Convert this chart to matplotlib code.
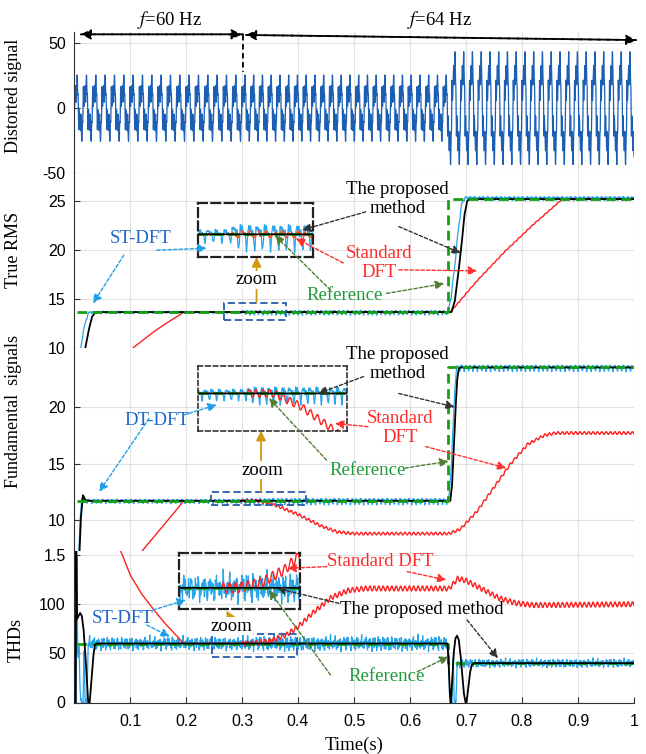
import numpy as np
import matplotlib.pyplot as plt
from matplotlib.patches import Rectangle

plt.rcParams['font.family'] = ['Liberation Serif', 'DejaVu Serif']
plt.rcParams['mathtext.fontset'] = 'stix'
plt.rcParams['axes.unicode_minus'] = False

# test signal: 60 Hz -> 64 Hz at 0.3 s, amplitude step at 0.667 s
freq_change_time = 0.3
step_time = 0.667
freq_hz = [60, 64]
harm_order = [1, 3, 5, 7, 9, 11]
harm_amp_before = [16.5, 6.5, 5.0, 4.0, 3.0, 2.5]
harm_amp_after = [33.2, 8.5, 6.5, 5.0, 4.0, 3.0]
harm_phase = [0.0, 1.2, 2.6, 0.7, 2.0, 1.5]

# reference values (before / after the step)
ref_rms = [13.7, 25.2]
ref_fund = [11.7, 23.5]
ref_thd = [60, 40]
ref_start = 0.005

# standard DFT (red)
dft_rms_t = [0.08, 0.104, 0.12, 0.14, 0.16, 0.18, 0.196, 0.672, 0.72, 0.77, 0.82, 0.872, 1.0]
dft_rms_v = [8.8, 10.0, 10.7, 11.6, 12.4, 13.1, 13.7, 13.7, 16.9, 19.9, 22.6, 25.2, 25.2]
dft_fund_t = [0.10, 0.196, 0.33, 0.36, 0.40, 0.44, 0.47, 0.50, 0.67, 0.69, 0.72, 0.75,
              0.78, 0.81, 0.84, 0.86, 1.0]
dft_fund_v = [5.97, 11.7, 11.7, 11.3, 10.5, 9.5, 8.95, 8.8, 8.8, 9.2, 10.8, 12.9,
              15.0, 16.7, 17.5, 17.7, 17.7]
dft_thd_t = [0.075, 0.085, 0.10, 0.12, 0.14, 0.16, 0.18, 0.196, 0.32, 0.35, 0.38, 0.40,
             0.43, 0.46, 0.49, 0.52, 0.67, 0.685, 0.70, 0.73, 0.76, 0.79, 0.82, 1.0]
dft_thd_v = [165, 152, 130, 111, 96, 82, 70, 60, 60, 62.5, 69, 77,
             93, 107, 114, 116, 116, 126, 124, 115, 106, 101, 99, 100]
dft_ripple = [0.05, 0.12, 2.5]          # rms, fundamental, thd (after 0.3 s)

# proposed method (black)
prop_rms_t = [0.0, 0.02, 0.026, 0.032, 0.038, 0.674, 0.68, 0.686, 0.692, 0.697, 0.702, 0.706, 1.0]
prop_rms_v = [0.0, 10.0, 11.8, 13.2, 13.7, 13.7, 14.8, 17.5, 20.5, 23.5, 25.0, 25.2, 25.2]
prop_fund_t = [0.0, 0.008, 0.012, 0.016, 0.02, 0.025, 0.672, 0.675, 0.678, 0.681, 0.684, 0.687, 0.69, 1.0]
prop_fund_v = [0.0, 5.0, 10.0, 12.2, 11.8, 11.7, 11.7, 13.0, 16.0, 19.5, 22.3, 23.4, 23.5, 23.5]
prop_thd_t = [0.0, 0.003, 0.004, 0.0055, 0.008, 0.011, 0.014, 0.017, 0.020, 0.022, 0.024, 0.0255,
              0.028, 0.031, 0.034, 0.037, 0.040, 0.667, 0.669, 0.671, 0.673, 0.675, 0.678, 0.681,
              0.684, 0.687, 0.690, 0.693, 0.696, 0.699, 0.701, 0.704, 0.707, 0.710, 0.714, 1.0]
prop_thd_v = [0, 0, 170, 85, 88, 91, 88, 75, 52, 32, 12, 0,
              0, 22, 45, 58, 60, 60, 40, 10, 0, 20, 50, 65,
              68, 64, 50, 30, 10, 0, 0, 15, 30, 38, 40, 40]

# ST-DFT (blue)
st_rms_t = [0.0, 0.012, 0.016, 0.02, 0.025, 0.028, 0.668, 0.674, 0.68, 0.686, 0.692, 0.697, 1.0]
st_rms_v = [0.0, 10.0, 11.5, 12.6, 13.5, 13.7, 13.7, 15.5, 18.5, 22.0, 24.6, 25.3, 25.3]
st_fund_t = [0.0, 0.007, 0.011, 0.014, 0.018, 0.669, 0.672, 0.675, 0.678, 0.681, 0.684, 1.0]
st_fund_v = [0.0, 5.0, 10.0, 12.0, 11.7, 11.7, 13.5, 16.0, 19.5, 22.5, 23.5, 23.5]
st_thd_t = [0.0, 0.004, 0.005, 0.0065, 0.009, 0.011, 0.013, 0.016, 0.018, 0.020, 0.023, 0.025,
            0.027, 0.667, 0.669, 0.671, 0.675, 0.677, 0.679, 0.682, 0.684, 0.687, 1.0]
st_thd_v = [0, 0, 150, 55, 50, 10, 0, 0, 50, 0, 0, 55,
            60, 60, 50, 0, 0, 45, 0, 0, 38, 40, 40]
# ripple amplitude: before 0.3 s, 0.3-0.667 s, after 0.667 s
st_rms_ripple = [0.13, 0.25, 0.22]
st_fund_ripple = [0.2, 0.3, 0.3]
st_thd_ripple = [5.5, 6.0, 3.5]

C_BLUE = '#2aa5ea'
C_RED = '#ff2020'
C_GREEN = '#16a016'
C_SIG = '#1a5fb4'

t = np.linspace(0, 1, 20001)
cycles = np.where(t < freq_change_time, freq_hz[0] * t,
                  freq_hz[0] * freq_change_time + freq_hz[1] * (t - freq_change_time))
phase = 2 * np.pi * cycles
after = t >= step_time

signal = np.zeros_like(t)
for n, a0, a1, ph in zip(harm_order, harm_amp_before, harm_amp_after, harm_phase):
    signal += np.where(after, a1, a0) * np.sin(n * phase + ph)

wiggle = (np.sin(2 * phase) + 0.6 * np.sin(4 * phase + 0.8) + 0.45 * np.sin(6 * phase + 2.1)
          + 0.3 * np.sin(9.3 * phase + 0.5)) / 1.8
jitter = np.zeros_like(t)
for k, w, p in zip([2, 3.7, 5.3, 7.9, 11.3, 13.7, 19.1],
                   [1, .8, .7, .6, .5, .45, .4], [0, 1.3, 2.2, .4, 2.9, 1.7, .9]):
    jitter += w * np.sin(k * phase + p)
jitter /= 2.4


def by_segment(vals):
    return np.select([t < freq_change_time, t < step_time], vals[:2], vals[2])


red_on = (t >= freq_change_time).astype(float)
st_rms = np.interp(t, st_rms_t, st_rms_v) + by_segment(st_rms_ripple) * wiggle
st_fund = np.interp(t, st_fund_t, st_fund_v) + by_segment(st_fund_ripple) * wiggle
st_thd = np.interp(t, st_thd_t, st_thd_v) + by_segment(st_thd_ripple) * jitter
dft_rms = np.interp(t, dft_rms_t, dft_rms_v) + dft_ripple[0] * red_on * np.sin(2 * phase)
dft_fund = np.interp(t, dft_fund_t, dft_fund_v) + dft_ripple[1] * red_on * np.sin(2 * phase)
dft_thd = np.interp(t, dft_thd_t, dft_thd_v) + dft_ripple[2] * red_on * np.sin(2 * phase)
dft_rms[t < dft_rms_t[0]] = np.nan
dft_fund[t < dft_fund_t[0]] = np.nan
dft_thd[t < dft_thd_t[0]] = np.nan

ref_x = [ref_start, step_time, step_time, 1.0]

fig = plt.figure(figsize=(6.46, 7.54), dpi=100)
L, W = 74 / 646, 560 / 646
panels = [(173, 32), (348.5, 173), (551, 348.5), (702.5, 551)]
axes = []
for bot, top in panels:
    axes.append(fig.add_axes([L, (754 - bot) / 754, W, (bot - top) / 754]))
ax1, ax2, ax3, ax4 = axes

ylims = [(-50, 58.7), (10, 27.85), (7.26, 25.18), (0, 154.1)]
yticks = [[-50, 0, 50], [10, 15, 20, 25], [10, 15, 20], [0, 50, 100, 150]]
ytlabels = [['-50', '0', '50'], ['10', '15', '20', '25'], ['10', '15', '20'], ['0', '50', '100', '1.5']]
ylabels = ['Distorted signal', 'True RMS', 'Fundamental  signals', 'THDs']
ylab_pos = [0.546, 0.561, 0.691, 0.413]
for i, ax in enumerate(axes):
    ax.set_xlim(0, 1)
    ax.set_ylim(*ylims[i])
    ax.set_xticks(np.arange(1, 11) / 10)
    ax.set_yticks(yticks[i])
    ax.set_yticklabels(ytlabels[i], fontfamily='Liberation Sans', fontsize=11.5)
    ax.grid(True, color='#e2e2e2', lw=0.8)
    ax.set_axisbelow(True)
    for s in ['top', 'right']:
        ax.spines[s].set_visible(False)
    ax.spines['left'].set_color('#303030')
    ax.spines['left'].set_linewidth(0.8)
    ax.tick_params(axis='y', direction='in', length=4, color='#303030', pad=6)
    ax.set_ylabel(ylabels[i], fontsize=13)
    ax.yaxis.set_label_coords(-0.093 if i < 3 else -0.088, ylab_pos[i])
    if i < 3:
        ax.spines['bottom'].set_visible(False)
        ax.tick_params(axis='x', length=0, labelbottom=False)
    else:
        ax.spines['bottom'].set_color('#303030')
        ax.spines['bottom'].set_linewidth(0.8)
        ax.tick_params(axis='x', direction='in', length=4, color='#303030', pad=8)
        ax.set_xticklabels(['0.1', '0.2', '0.3', '0.4', '0.5', '0.6', '0.7', '0.8', '0.9', '1'],
                           fontfamily='Liberation Sans', fontsize=11.5)
        ax.set_xlabel('Time(s)', fontsize=13.5, labelpad=6)

# panel 1: distorted signal
ax1.plot(t, signal, color=C_SIG, lw=0.9)
ax1.plot([0.302, 0.302], [56.5, 28.2], color='k', lw=1.3, ls=(0, (3, 2)), clip_on=False)
for (x0, y0), (x1, y1) in [((0.302, 56.9), (0.012, 56.9)), ((0.012, 56.9), (0.2995, 56.9)),
                           ((0.307, 56.4), (1.004, 52.5)), ((1.004, 52.5), (0.307, 56.4))]:
    ax1.annotate('', xy=(x1, y1), xytext=(x0, y0), annotation_clip=False,
                 arrowprops=dict(arrowstyle='-|>', color='k', lw=1.3, linestyle=(0, (3, 2)),
                                 mutation_scale=15, shrinkA=0, shrinkB=0))
fig.text(170 / 646, 1 - 20 / 754, '$f$=60 Hz', fontsize=13.5, ha='center', va='center')
fig.text(440 / 646, 1 - 20 / 754, '$f$=64 Hz', fontsize=13.5, ha='center', va='center')


def draw_set(ax, blue, red, black, ref, green_top=True, red_style='-'):
    ax.plot(t, blue, color=C_BLUE, lw=0.9)
    ax.plot(t, red, color=C_RED, lw=1.0, ls=red_style)
    zg, zb = (2.6, 2.5) if green_top else (2.5, 2.6)
    ax.plot(ref_x, [ref[0], ref[0], ref[1], ref[1]], color=C_GREEN, lw=2.0,
            ls=(0, (3.5, 2)), zorder=zg)
    ax.plot(t, black, color='k', lw=1.3, zorder=zb)


prop_rms = np.interp(t, prop_rms_t, prop_rms_v)
prop_fund = np.interp(t, prop_fund_t, prop_fund_v)
prop_thd = np.interp(t, prop_thd_t, prop_thd_v)

draw_set(ax2, st_rms, dft_rms, prop_rms, ref_rms)
draw_set(ax3, st_fund, dft_fund, prop_fund, ref_fund)
draw_set(ax4, st_thd, dft_thd, prop_thd, ref_thd, green_top=False)


def add_inset(ax, bounds, src, ylim, blue, red, black, ref, box_ls, box_lw, red_style='-'):
    x0, y0, x1, y1 = src
    ax.add_patch(Rectangle((x0, y0), x1 - x0, y1 - y0, fill=False, ec='#2a5caa',
                           lw=1.3, ls=(0, (4, 2)), zorder=4))
    ins = ax.inset_axes(bounds, transform=ax.transData)
    ins.plot(t, blue, color=C_BLUE, lw=0.9)
    if red_style == '-':
        ins.plot(t, red, color=C_RED, lw=1.0)
    else:
        ins.plot(t, red, color='#ff5522', lw=1.6, ls=red_style)
    ins.plot(ref_x, [ref[0], ref[0], ref[1], ref[1]], color=C_GREEN, lw=2.0, ls=(0, (3.5, 2)))
    ins.plot(t, black, color='k', lw=1.2)
    ins.set_xlim(x0, x1)
    ins.set_ylim(*ylim)
    ins.set_xticks([])
    ins.set_yticks([])
    ins.patch.set_alpha(0)
    for sp in ins.spines.values():
        sp.set_linestyle(box_ls)
        sp.set_linewidth(box_lw)
        sp.set_color('#202020')
    return ins


add_inset(ax2, [0.222, 19.3, 0.205, 5.5], (0.267, 12.85, 0.379, 14.6), (13.3, 14.25),
          st_rms, dft_rms, prop_rms, ref_rms, (0, (4, 2)), 1.6, red_style=(0, (3, 1.5)))
add_inset(ax3, [0.222, 17.9, 0.266, 5.7], (0.244, 11.33, 0.414, 12.5), (10.5, 12.57),
          st_fund, dft_fund, prop_fund, ref_fund, (0, (3, 2)), 1.1)
add_inset(ax4, [0.188, 94.8, 0.215, 57.6], (0.246, 46.6, 0.399, 69.4), (49.3, 77.5),
          st_thd, dft_thd, prop_thd, ref_thd, (0, (4, 2)), 1.6)

C_ORANGE = '#d09a10'
ARROW_COLORS = {'b': '#1f9fe8', 'k': '#333333', 'r': '#ff3030', 'g': '#4f7f35'}
TEXT_COLORS = {'b': '#1a66cc', 'k': 'k', 'r': '#ff2a2a', 'g': '#1e9a3a'}


def note(ax, text, xy, c):
    ax.text(xy[0], xy[1], text, color=TEXT_COLORS[c], fontsize=13.5, ha='center',
            va='center', multialignment='center', linespacing=1.15, zorder=6)


def arrow(ax, start, end, c):
    ax.annotate('', xy=end, xytext=start, zorder=7, annotation_clip=False,
                arrowprops=dict(arrowstyle='-|>', color=ARROW_COLORS[c], lw=1.0,
                                linestyle=(0, (2.5, 1.5)), mutation_scale=13,
                                shrinkA=0, shrinkB=0))


def zoom_arrow(ax, start, end, text_xy):
    ax.annotate('', xy=end, xytext=start, zorder=5,
                arrowprops=dict(arrowstyle='-|>', color=C_ORANGE, lw=1.3,
                                mutation_scale=14, shrinkA=0, shrinkB=0))
    ax.text(text_xy[0], text_xy[1], 'zoom', fontsize=13.5, ha='center', va='center', zorder=6,
            bbox=dict(fc='white', ec='none', pad=0.3))


# panel 2 notes
zoom_arrow(ax2, (0.326, 14.7), (0.326, 19.3), (0.326, 17.0))
note(ax2, 'ST-DFT', (0.119, 21.2), 'b')
arrow(ax2, (0.148, 20.0), (0.237, 20.2), 'b')
arrow(ax2, (0.089, 19.5), (0.034, 14.6), 'b')
note(ax2, 'The proposed\nmethod', (0.578, 25.2), 'k')
arrow(ax2, (0.521, 23.9), (0.407, 22.05), 'k')
arrow(ax2, (0.580, 22.4), (0.691, 19.7), 'k')
note(ax2, 'Standard\nDFT', (0.545, 18.7), 'r')
arrow(ax2, (0.481, 18.7), (0.396, 21.2), 'r')
arrow(ax2, (0.580, 18.0), (0.720, 17.9), 'r')
note(ax2, 'Reference', (0.484, 15.35), 'g')
arrow(ax2, (0.458, 15.95), (0.359, 21.5), 'g')
arrow(ax2, (0.558, 15.6), (0.661, 16.6), 'g')

# panel 3 notes
zoom_arrow(ax3, (0.334, 12.5), (0.334, 17.9), (0.337, 14.4))
note(ax3, 'DT-DFT', (0.148, 18.85), 'b')
arrow(ax3, (0.196, 19.3), (0.255, 20.2), 'b')
arrow(ax3, (0.134, 19.0), (0.045, 12.5), 'b')
note(ax3, 'The proposed\nmethod', (0.578, 23.8), 'k')
arrow(ax3, (0.517, 22.7), (0.436, 21.2), 'k')
arrow(ax3, (0.580, 21.2), (0.680, 20.0), 'k')
note(ax3, 'Standard\nDFT', (0.583, 18.15), 'r')
arrow(ax3, (0.525, 18.26), (0.466, 18.55), 'r')
arrow(ax3, (0.628, 16.5), (0.772, 14.6), 'r')
note(ax3, 'Reference', (0.525, 14.4), 'g')
arrow(ax3, (0.451, 15.3), (0.348, 20.8), 'g')
arrow(ax3, (0.591, 14.6), (0.669, 15.2), 'g')

# panel 4 notes
zoom_arrow(ax4, (0.296, 69.0), (0.272, 93.4), (0.281, 77.8))
note(ax4, 'Standard DFT', (0.547, 143.2), 'r')
arrow(ax4, (0.451, 138.2), (0.381, 136.5), 'r')
arrow(ax4, (0.595, 133.1), (0.665, 124.6), 'r')
note(ax4, 'The proposed method', (0.621, 94.1), 'k')
arrow(ax4, (0.473, 100.9), (0.362, 116.2), 'k')
arrow(ax4, (0.702, 83.9), (0.757, 45.0), 'k')
note(ax4, 'ST-DFT', (0.086, 85.6), 'b')
arrow(ax4, (0.141, 94.1), (0.200, 104.3), 'b')
arrow(ax4, (0.130, 78.8), (0.171, 67.0), 'b')
note(ax4, 'Reference', (0.558, 26.3), 'g')
arrow(ax4, (0.458, 28.0), (0.348, 114.4), 'g')
arrow(ax4, (0.613, 31.3), (0.669, 46.6), 'g')

fig.savefig('out.png', dpi=100)
